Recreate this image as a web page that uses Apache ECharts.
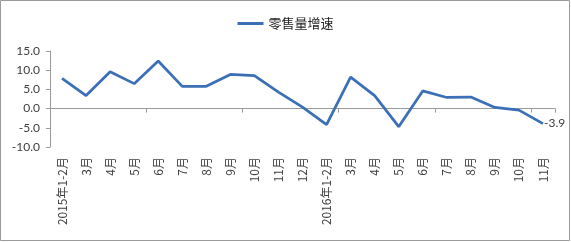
<!DOCTYPE html>
<html><head><meta charset="utf-8">
<script src="https://cdn.jsdelivr.net/npm/echarts@6/dist/echarts.min.js"></script>
<style>html,body{margin:0;padding:0;background:#fff}#c{width:571px;height:242px}</style>
</head><body><div id="c"></div>
<script>
const categories = ['2015年1-2月','3月','4月','5月','6月','7月','8月','9月','10月','11月','12月',
  '2016年1-2月','3月','4月','5月','6月','7月','8月','9月','10月','11月'];
const seriesName = '零售量增速';
const values = [7.9, 3.4, 9.6, 6.5, 12.4, 5.8, 5.8, 8.9, 8.6, 4.3, 0.4,
  -4.2, 8.2, 3.4, -4.7, 4.6, 2.9, 3.0, 0.3, -0.4, -3.9];
const yTicks = {min: -10, max: 15, interval: 5};

const chart = echarts.init(document.getElementById('c'));
const lineColor = '#3b6fb6';
const txt = '#404040';
const font = 'Lato, "Noto Sans CJK SC", sans-serif';
chart.setOption({
  animation: false,
  textStyle: {fontFamily: font},
  graphic: [{type: 'rect', shape: {x: 0.5, y: 0.5, width: 569, height: 240},
    style: {fill: 'none', stroke: '#9a9a9a', lineWidth: 1}, silent: true}],
  legend: {top: 12, left: 'center', itemWidth: 26, itemHeight: 3, icon: 'rect',
    itemStyle: {color: lineColor, opacity: 1},
    textStyle: {fontSize: 13, color: '#222', fontFamily: '"Noto Sans CJK SC", sans-serif'},
    data: [seriesName]},
  grid: {left: 50, right: 16, top: 51, bottom: 95},
  xAxis: [{
    type: 'category', data: categories, boundaryGap: true,
    axisLine: {onZero: true, lineStyle: {color: '#9a9a9a', width: 1}},
    axisTick: {show: true, length: 4, inside: false, lineStyle: {color: '#9a9a9a'}},
    axisLabel: {show: false}
  }, {
    type: 'category', data: categories, boundaryGap: true, position: 'bottom',
    axisLine: {show: false, onZero: false}, axisTick: {show: false},
    axisLabel: {show: true, rotate: 90, interval: 0, fontSize: 12, color: txt, margin: 10,
      fontFamily: '"Noto Sans CJK SC", sans-serif'}
  }],
  yAxis: {
    type: 'value', min: yTicks.min, max: yTicks.max, interval: yTicks.interval,
    axisLine: {show: true, lineStyle: {color: '#9a9a9a'}},
    axisTick: {show: true, length: 4, lineStyle: {color: '#9a9a9a'}},
    splitLine: {show: false},
    axisLabel: {fontSize: 12, color: txt, margin: 10, formatter: v => v.toFixed(1)}
  },
  series: [{
    name: seriesName, type: 'line', data: values, xAxisIndex: 0,
    symbol: 'circle', symbolSize: 0.1, showSymbol: true,
    lineStyle: {color: lineColor, width: 2.75}, itemStyle: {color: lineColor},
    label: {show: true, position: 'right', fontSize: 12, color: txt, distance: 1,
      formatter: p => p.dataIndex === values.length - 1 ? p.value.toFixed(1) : ''}
  }]
});
</script></body></html>
